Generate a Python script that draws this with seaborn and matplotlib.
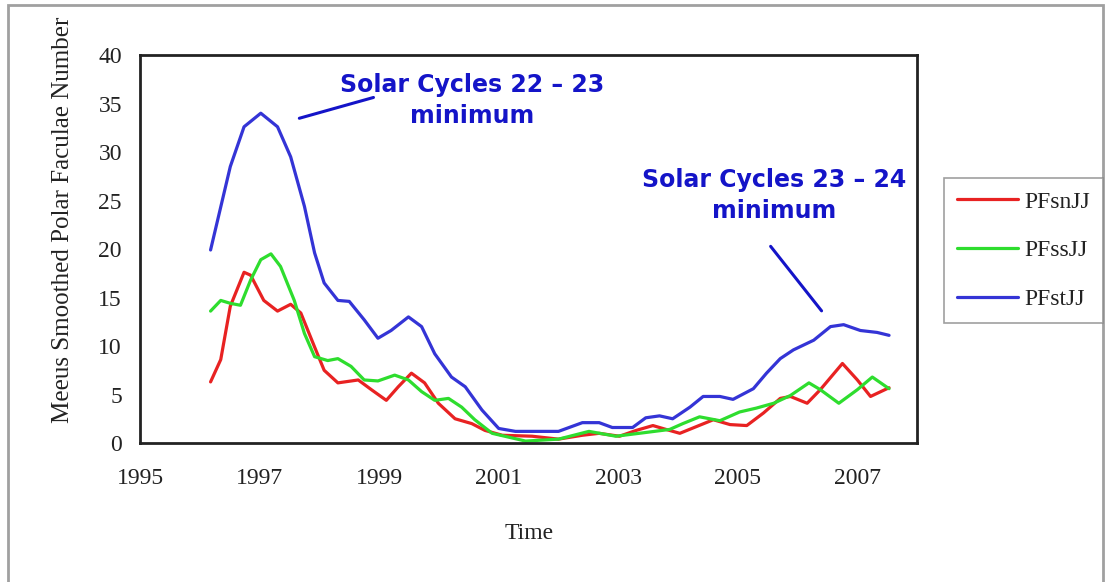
import pandas as pd
import matplotlib
matplotlib.use("Agg")
import matplotlib.pyplot as plt
import matplotlib.patches as mpatches
import seaborn as sns

# --- values ---
pfsn_year = [1996.18, 1996.35, 1996.51, 1996.74, 1996.85, 1997.07, 1997.30, 1997.52, 1997.69,
             1997.92, 1998.08, 1998.31, 1998.65, 1998.87, 1999.12, 1999.32, 1999.54, 1999.76,
             1999.99, 2000.27, 2000.55, 2000.77, 2001.06, 2001.56, 2002.0, 2002.4, 2002.68,
             2003.02, 2003.3, 2003.58, 2003.8, 2004.03, 2004.31, 2004.59, 2004.87, 2005.15,
             2005.43, 2005.71, 2005.88, 2006.16, 2006.38, 2006.75, 2007.0, 2007.22, 2007.53]
pfsn_val = [6.3, 8.6, 14.1, 17.6, 17.3, 14.7, 13.6, 14.3, 13.4,
            9.9, 7.5, 6.2, 6.5, 5.5, 4.4, 5.8, 7.2, 6.2,
            4.1, 2.5, 2.0, 1.3, 0.8, 0.7, 0.4, 0.8, 1.0,
            0.7, 1.3, 1.8, 1.4, 1.0, 1.7, 2.4, 1.9, 1.8,
            3.1, 4.6, 4.8, 4.1, 5.5, 8.2, 6.5, 4.8, 5.7]

pfss_year = [1996.18, 1996.35, 1996.51, 1996.68, 1996.85, 1997.02, 1997.19, 1997.35, 1997.58,
             1997.75, 1997.92, 1998.14, 1998.31, 1998.53, 1998.75, 1998.98, 1999.26, 1999.49,
             1999.71, 1999.93, 2000.16, 2000.38, 2000.6, 2000.89, 2001.17, 2001.45, 2002.0,
             2002.51, 2002.96, 2003.35, 2003.86, 2004.08, 2004.36, 2004.7, 2005.03, 2005.31,
             2005.6, 2005.88, 2006.19, 2006.38, 2006.69, 2007.0, 2007.25, 2007.53]
pfss_val = [13.6, 14.7, 14.4, 14.2, 16.8, 18.9, 19.5, 18.2, 14.7,
            11.3, 8.9, 8.5, 8.7, 7.9, 6.5, 6.4, 7.0, 6.5,
            5.3, 4.4, 4.6, 3.7, 2.4, 1.0, 0.6, 0.2, 0.4,
            1.2, 0.7, 1.0, 1.4, 2.0, 2.7, 2.3, 3.2, 3.6,
            4.1, 4.9, 6.2, 5.5, 4.1, 5.5, 6.8, 5.6]

pfst_year = [1996.18, 1996.51, 1996.74, 1997.02, 1997.30, 1997.52, 1997.75, 1997.92, 1998.08,
             1998.31, 1998.5, 1998.75, 1998.98, 1999.2, 1999.49, 1999.71, 1999.93, 2000.21,
             2000.44, 2000.72, 2001.0, 2001.28, 2001.45, 2002.0, 2002.4, 2002.68, 2002.9,
             2003.24, 2003.46, 2003.69, 2003.91, 2004.2, 2004.42, 2004.7, 2004.92, 2005.26,
             2005.48, 2005.71, 2005.93, 2006.27, 2006.55, 2006.77, 2007.05, 2007.33, 2007.53]
pfst_val = [19.9, 28.5, 32.6, 34.0, 32.6, 29.5, 24.4, 19.6, 16.5,
            14.7, 14.6, 12.7, 10.8, 11.6, 13.0, 12.0, 9.2, 6.8,
            5.8, 3.4, 1.5, 1.2, 1.2, 1.2, 2.1, 2.1, 1.6,
            1.6, 2.6, 2.8, 2.5, 3.7, 4.8, 4.8, 4.5, 5.6,
            7.2, 8.7, 9.6, 10.6, 12.0, 12.2, 11.6, 11.4, 11.1]

series_names = ["PFsnJJ", "PFssJJ", "PFstJJ"]
series_colors = ["#E82222", "#2EDD2E", "#3434D6"]

df = pd.concat([
    pd.DataFrame({"Time": pfsn_year, "value": pfsn_val, "series": "PFsnJJ"}),
    pd.DataFrame({"Time": pfss_year, "value": pfss_val, "series": "PFssJJ"}),
    pd.DataFrame({"Time": pfst_year, "value": pfst_val, "series": "PFstJJ"}),
], ignore_index=True)

sns.set_style("white")
plt.rcParams["font.family"] = ["Liberation Serif", "DejaVu Serif"]

fig = plt.figure(figsize=(11.07, 5.82), dpi=100)
ax = fig.add_axes([0.1265, 0.2388, 0.702, 0.6667])

sns.lineplot(data=df, x="Time", y="value", hue="series", hue_order=series_names,
             palette=dict(zip(series_names, series_colors)), linewidth=2.3,
             sort=False, estimator=None, ax=ax)
for ln in ax.lines:
    ln.set_solid_joinstyle("round")

ax.set_xlim(1995, 2008)
ax.set_ylim(0, 40)
ax.set_xticks(range(1995, 2009))
ax.set_xticklabels([str(y) if y % 2 == 1 else "" for y in range(1995, 2009)])
ax.set_yticks(range(0, 41, 5))
ax.tick_params(axis="both", direction="out", length=5, width=1.2, color="#333333",
               labelsize=17, labelcolor="#222222")
ax.tick_params(axis="x", pad=13)
ax.tick_params(axis="y", pad=8)
for s in ax.spines.values():
    s.set_color("#222222")
    s.set_linewidth(2)

ax.set_xlabel("Time", fontsize=17, color="#222222")
ax.xaxis.set_label_coords(0.501, -0.205)
ax.set_ylabel("")
fig.text(63 / 1107, 1 - 220 / 582, "Meeus Smoothed Polar Faculae Number",
         rotation=90, ha="center", va="center", fontsize=18, color="#222222")

# annotations
ann_color = "#1414C8"
ax.text(2000.55, 35.3, "Solar Cycles 22 – 23\nminimum", color=ann_color, fontsize=17,
        fontweight="bold", family="DejaVu Sans", ha="center", va="center", linespacing=1.4)
ax.annotate("", xy=(1997.62, 33.4), xytext=(1998.95, 35.7),
            arrowprops=dict(arrowstyle="-", color=ann_color, lw=2.2))
ax.text(2005.6, 25.5, "Solar Cycles 23 – 24\nminimum", color=ann_color, fontsize=17,
        fontweight="bold", family="DejaVu Sans", ha="center", va="center", linespacing=1.4)
ax.annotate("", xy=(2006.43, 13.4), xytext=(2005.52, 20.5),
            arrowprops=dict(arrowstyle="-", color=ann_color, lw=2.2))

# legend
handles, labels = ax.get_legend_handles_labels()
ax.get_legend().remove()
leg = fig.legend(handles, labels, loc="upper left", bbox_to_anchor=(944 / 1107, 1 - 178 / 582),
                 fontsize=17, frameon=True, fancybox=False, edgecolor="#888888",
                 handlelength=2.6, labelspacing=1.15, borderpad=0.55, handletextpad=0.25,
                 borderaxespad=0)
leg.get_frame().set_linewidth(1.2)
for t in leg.get_texts():
    t.set_color("#222222")

# outer border of the picture
fig.patches.append(mpatches.Rectangle((8 / 1107, -0.1), (1103 - 8) / 1107, 1.092,
                                      transform=fig.transFigure, fill=False,
                                      edgecolor="#A0A0A0", linewidth=2))

fig.savefig("out.png", dpi=100)
